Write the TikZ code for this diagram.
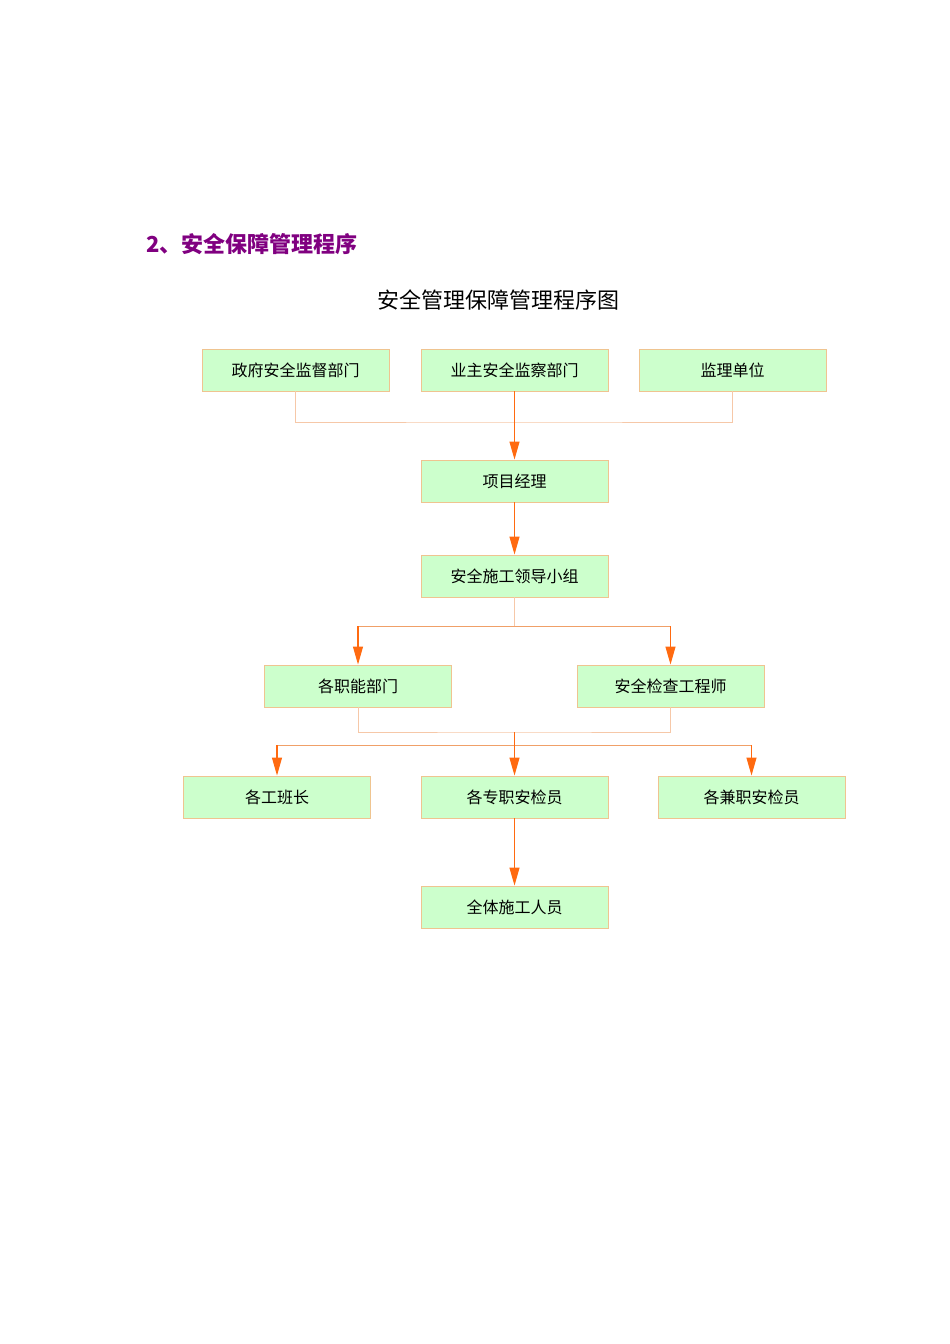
\documentclass[tikz,border=0pt]{standalone}
\usepackage{fontspec}
\newfontfamily\cjk{Noto Sans CJK SC}
\usetikzlibrary{arrows.meta}
\definecolor{boxfill}{HTML}{CCFFCC}
\definecolor{boxline}{HTML}{EFC490}
\definecolor{arr}{HTML}{FF6A10}
\definecolor{midline}{HTML}{F0A068}
\definecolor{light}{HTML}{F6C8A8}
\definecolor{purp}{HTML}{800080}
\begin{document}
\begin{tikzpicture}[x=1pt,y=-1pt,
  box/.style={draw=boxline, fill=boxfill, minimum width=187pt, minimum height=42pt,
    inner sep=0pt, line width=0.9pt, font=\cjk\fontsize{16}{16}\selectfont},
  lightline/.style={draw=light, line width=0.9pt},
  midl/.style={draw=midline, line width=1pt},
  arrline/.style={draw=arr, line width=1.1pt},
  arrow/.style={arrline, -{Triangle[length=18pt,width=10pt]}}]
\useasboundingbox (0,0) rectangle (950,1344);
\node[anchor=west, text=purp, font=\cjk\bfseries\fontsize{22}{22}\selectfont] (head) at (143,244) {2、安全保障管理程序};
\node[font=\cjk\fontsize{22}{22}\selectfont] (title) at (498,300) {安全管理保障管理程序图};

\node[box] (gov) at (295.5,370) {政府安全监督部门};
\node[box] (owner) at (514.5,370) {业主安全监察部门};
\node[box] (sup) at (732.5,370) {监理单位};
\node[box] (pm) at (514.5,481) {项目经理};
\node[box] (lead) at (514.5,576) {安全施工领导小组};
\node[box] (func) at (358,686) {各职能部门};
\node[box] (eng) at (670.5,686) {安全检查工程师};
\node[box] (team) at (277,797) {各工班长};
\node[box] (full) at (514.5,797) {各专职安检员};
\node[box] (part) at (751.5,797) {各兼职安检员};
\node[box] (all) at (514.5,907) {全体施工人员};

\coordinate (j1) at (514.5,422);
\coordinate (j2) at (514.5,626);
\coordinate (j3) at (514.5,732);
\coordinate (j4) at (514.5,745);

\draw[lightline] (gov.south) |- (j1) -| (sup.south);
\draw[arrow] (owner.south) -- (pm.north);
\draw[arrow] (pm.south) -- (lead.north);
\draw[lightline] (lead.south) -- (j2);
\draw[midl] (func.north |- j2) -- (eng.north |- j2);
\draw[arrow] (func.north |- j2) -- (func.north);
\draw[arrow] (eng.north |- j2) -- (eng.north);
\draw[lightline] (func.south) |- (j3) -| (eng.south);
\draw[midl] (team.north |- j4) -- (part.north |- j4);
\draw[arrow] (j3) -- (full.north);
\draw[arrow] (team.north |- j4) -- (team.north);
\draw[arrow] (part.north |- j4) -- (part.north);
\draw[arrow] (full.south) -- (all.north);
\end{tikzpicture}
\end{document}
